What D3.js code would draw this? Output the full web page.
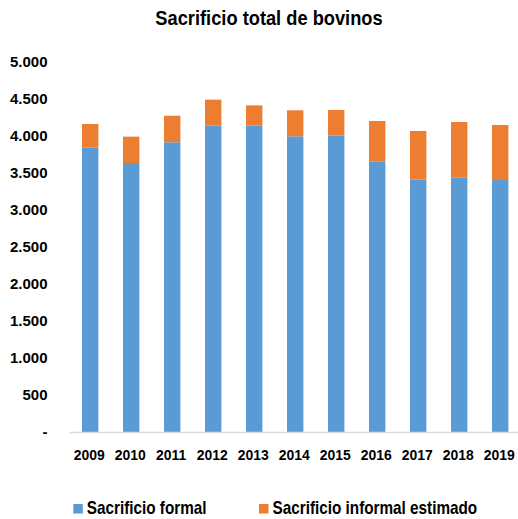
<!DOCTYPE html>
<html><head><meta charset="utf-8">
<script src="https://cdn.jsdelivr.net/npm/d3@7"></script>
<style>body{margin:0;background:#fff}svg{display:block}</style>
</head><body>
<svg id="c" width="518" height="519"></svg>
<script>
const years = ["2009","2010","2011","2012","2013","2014","2015","2016","2017","2018","2019"];
const formal = [3842,3635,3915,4139,4144,3996,4005,3658,3410,3441,3405];
const informal = [320,356,359,352,270,351,346,545,658,748,744];
const yTicks = [0,500,1000,1500,2000,2500,3000,3500,4000,4500,5000];
const seriesNames = ["Sacrificio formal","Sacrificio informal estimado"];
const colors = ["#5B9BD5","#ED7D31"];

const font = "'Liberation Sans', Arial, sans-serif";
const svg = d3.select("#c");
const x = d3.scaleBand().domain(years).range([69.7,520.7]).paddingInner(0.6).paddingOuter(0.3);
const y = d3.scaleLinear().domain([0,5000]).range([432,62]);

const data = years.map((yr,i)=>({year:yr, formal:formal[i], informal:informal[i]}));
const stack = d3.stack().keys(["formal","informal"])(data);

svg.append("text").attr("transform","translate(269,25) scale(0.87,1)").attr("text-anchor","middle")
  .attr("font-family",font).attr("font-weight","bold").attr("font-size",21)
  .text("Sacrificio total de bovinos");

const fmt = v => v===0 ? "-" : d3.format(",")(v).replace(/,/g,".");
svg.append("g").selectAll("text").data(yTicks).join("text")
  .attr("x",47.5).attr("y",d=>y(d)).attr("dy","0.36em").attr("text-anchor","end")
  .attr("font-family",font).attr("font-weight","bold").attr("font-size",15)
  .text(fmt);

svg.append("g").selectAll("g").data(stack).join("g").attr("fill",(d,i)=>colors[i])
  .selectAll("rect").data(d=>d).join("rect")
  .attr("x",d=>x(d.data.year)).attr("width",x.bandwidth())
  .attr("y",d=>y(d[1])).attr("height",d=>y(d[0])-y(d[1]));

svg.append("line").attr("x1",69.7).attr("x2",518).attr("y1",y(0)+0.5).attr("y2",y(0)+0.5)
  .attr("stroke","#d9d9d9").attr("stroke-width",1.5);

svg.append("g").selectAll("text").data(years).join("text")
  .attr("transform",d=>`translate(${x(d)+x.bandwidth()/2-1},459.5) scale(0.93,1)`).attr("text-anchor","middle")
  .attr("font-family",font).attr("font-weight","bold").attr("font-size",15)
  .text(d=>d);

const legX = [73.3,259];
const lg = svg.append("g").selectAll("g").data(seriesNames).join("g")
  .attr("transform",(d,i)=>`translate(${legX[i]},504)`);
lg.append("rect").attr("width",9.5).attr("height",9.5).attr("fill",(d,i)=>colors[i]);
lg.append("text").attr("transform","translate(13.5,10) scale(0.85,1)")
  .attr("font-family",font).attr("font-weight","bold").attr("font-size",18)
  .text(d=>d);
</script>
</body></html>
